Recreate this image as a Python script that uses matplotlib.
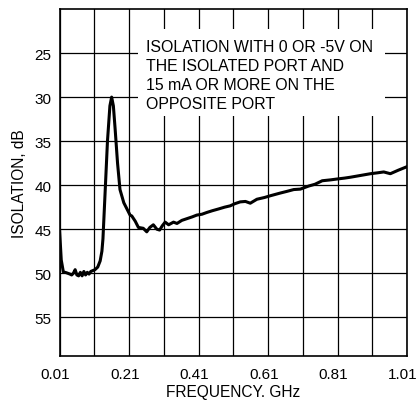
import numpy as np
import matplotlib
matplotlib.use("Agg")
import matplotlib.pyplot as plt
import matplotlib.transforms as mtransforms
from matplotlib.patches import Rectangle

plt.rcParams['font.family'] = ['Liberation Sans', 'DejaVu Sans']

# isolation curve (GHz, dB)
freq = [0.01, 0.015, 0.021, 0.03, 0.04, 0.045, 0.05, 0.055, 0.06, 0.065, 0.07,
        0.075, 0.08, 0.085, 0.09, 0.095, 0.10, 0.112, 0.12, 0.127, 0.132,
        0.135, 0.141, 0.148, 0.155, 0.16, 0.165, 0.17, 0.177, 0.184, 0.195,
        0.204, 0.213, 0.218, 0.228, 0.237, 0.251, 0.261, 0.27, 0.28, 0.29,
        0.298, 0.306, 0.314, 0.324, 0.338, 0.348, 0.362, 0.377, 0.392, 0.405,
        0.42, 0.434, 0.45, 0.468, 0.485, 0.501, 0.515, 0.53, 0.545, 0.559,
        0.578, 0.6, 0.617, 0.645, 0.665, 0.684, 0.703, 0.727, 0.745, 0.766,
        0.79, 0.809, 0.83, 0.847, 0.876, 0.905, 0.925, 0.943, 0.962, 0.985,
        1.01]
isolation = [45.0, 48.5, 49.85, 49.95, 50.1, 50.2, 50.0, 49.6, 50.2, 50.3, 49.9,
             50.3, 49.8, 50.2, 49.9, 50.1, 49.8, 49.6, 49.3, 48.6, 47.5,
             46.1, 41.0, 35.0, 31.0, 30.0, 31.0, 33.6, 37.5, 40.5, 42.0,
             42.7, 43.4, 43.5, 44.1, 44.8, 44.9, 45.3, 44.8, 44.5, 45.0,
             45.1, 44.6, 44.2, 44.5, 44.2, 44.35, 44.0, 43.8, 43.6, 43.4,
             43.3, 43.1, 42.9, 42.7, 42.5, 42.35, 42.1, 41.9, 41.85, 42.05,
             41.6, 41.4, 41.2, 40.9, 40.7, 40.5, 40.45, 40.1, 39.9, 39.5,
             39.4, 39.3, 39.2, 39.1, 38.9, 38.7, 38.6, 38.5, 38.7, 38.3,
             37.9]

x_ticks = [0.01, 0.21, 0.41, 0.61, 0.81, 1.01]
x_grid = [0.11, 0.31, 0.51, 0.71, 0.91]
y_ticks = [25, 30, 35, 40, 45, 50, 55]

note_lines = ["ISOLATION WITH 0 OR -5V ON",
              "THE ISOLATED PORT AND",
              "15 mA OR MORE ON THE",
              "OPPOSITE PORT"]

fig = plt.figure(figsize=(4.2, 4.02), dpi=100)
ax = fig.add_axes([0.1417, 0.112, 0.8274, 0.863])

ax.plot(freq, isolation, color='black', lw=2.2, zorder=4, solid_joinstyle='round')

ax.set_xlim(0.01, 1.01)
ax.set_ylim(59.4, 20)
ax.set_xticks(x_ticks)
ax.set_xticklabels([f"{v:.2f}" for v in x_ticks])
ax.set_xticks(x_grid, minor=True)
ax.set_yticks(y_ticks)
ax.tick_params(axis='both', which='both', length=0, labelsize=11, colors='black')
ax.tick_params(axis='x', pad=8)
ax.tick_params(axis='y', pad=6)
ax.grid(True, which='both', color='black', lw=0.9)
ax.set_axisbelow(True)
for s in ax.spines.values():
    s.set_linewidth(1.2)

# labels in the reference sit a few pixels left of their grid lines
shift = mtransforms.ScaledTranslation(-4 / 100, 0, fig.dpi_scale_trans)
for lbl in ax.get_xticklabels():
    lbl.set_transform(lbl.get_transform() + shift)

# white box behind the note
ax.add_patch(Rectangle((0.236, 22.3), 0.712, 9.9, facecolor='white',
                       edgecolor='none', zorder=2))
for i, line in enumerate(note_lines):
    ax.text(0.259, 24.74 + i * 2.18, line, fontsize=11.4, va='baseline',
            ha='left', zorder=3)

ax.set_xlabel("FREQUENCY. GHz", fontsize=11.2, labelpad=2)
ax.set_ylabel("ISOLATION, dB", fontsize=11.2, labelpad=5)

fig.savefig("out.png", dpi=100)
